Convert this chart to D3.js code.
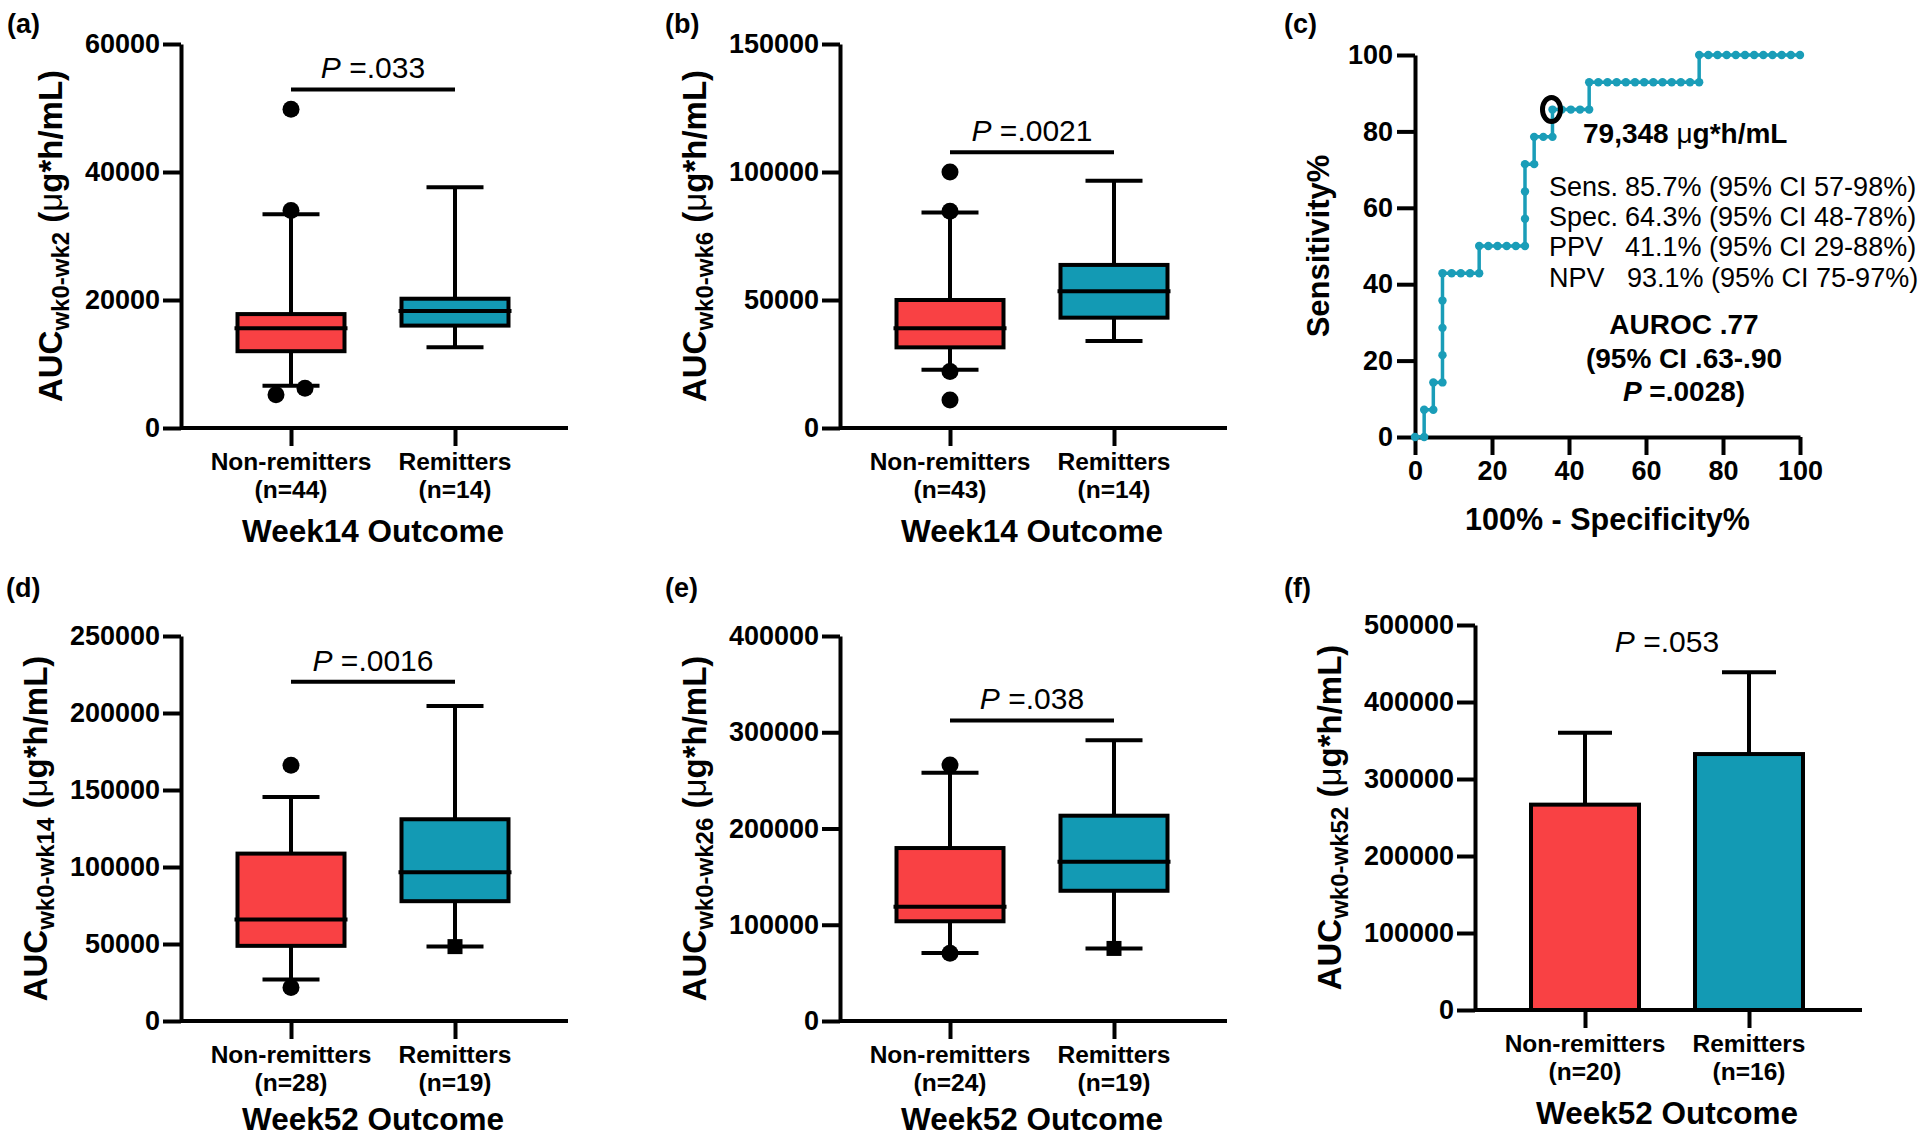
<!DOCTYPE html>
<html>
<head>
<meta charset="utf-8">
<script src="https://cdn.jsdelivr.net/npm/d3@7"></script>
<style>
body { margin: 0; background: #fff; }
svg { font-family: "Liberation Sans", Arial, Helvetica, sans-serif; }
</style>
</head>
<body>
<svg id="fig" width="1920" height="1139"></svg>
<script>
var groups = ["Non-remitters", "Remitters"]
var red = "#f94144", teal = "#139ab4", rocTeal = "#1a9db8"

// box data: [whisker low, q1, median, q3, whisker high]
var nA = [44, 14]
var boxA = [[6600, 12000, 15600, 17800, 33400], [12600, 16000, 18300, 20200, 37600]]
var outA = [[0, 49800], [0, 34000], [0, 6200], [0, 5200]]
var ticksA = [0, 20000, 40000, 60000]

var nB = [43, 14]
var boxB = [[22800, 31500, 39000, 50000, 84200], [34000, 43100, 53400, 63700, 96600]]
var outB = [[0, 100000], [0, 84700], [0, 22100], [0, 10900]]
var ticksB = [0, 50000, 100000, 150000]

var nD = [28, 19]
var boxD = [[27000, 48800, 65900, 108700, 145400], [48300, 77800, 96600, 131000, 204600]]
var outD = [[0, 166000], [0, 21700], [1, 48300]]
var ticksD = [0, 50000, 100000, 150000, 200000, 250000]

var nE = [24, 19]
var boxE = [[70700, 103600, 118600, 179700, 257800], [75400, 135300, 165400, 213300, 291800]]
var outE = [[0, 265900], [0, 70300], [1, 75400]]
var ticksE = [0, 100000, 200000, 300000, 400000]

// bar panel (f): mean and SD
var nF = [20, 16]
var meanF = [266700, 332400]
var sdF = [93300, 106200]
var ticksF = [0, 100000, 200000, 300000, 400000, 500000]

// ROC curve (c)
var rocFpr = [0, 2.38, 2.38, 4.76, 4.76, 7.14, 7.14, 7.14, 7.14, 7.14, 9.52, 11.90, 14.29, 16.67, 16.67,
  19.05, 21.43, 23.81, 26.19, 28.57, 28.57, 28.57, 28.57, 30.95, 30.95, 33.33, 35.71, 35.71, 38.10, 40.48,
  42.86, 45.24, 45.24, 47.62, 50.00, 52.38, 54.76, 57.14, 59.52, 61.90, 64.29, 66.67, 69.05, 71.43, 73.81,
  73.81, 76.19, 78.57, 80.95, 83.33, 85.71, 88.10, 90.48, 92.86, 95.24, 97.62, 100]
var rocSens = [0, 0, 7.14, 7.14, 14.29, 14.29, 21.43, 28.57, 35.71, 42.86, 42.86, 42.86, 42.86, 42.86, 50,
  50, 50, 50, 50, 50, 57.14, 64.29, 71.43, 71.43, 78.57, 78.57, 78.57, 85.71, 85.71, 85.71,
  85.71, 85.71, 92.86, 92.86, 92.86, 92.86, 92.86, 92.86, 92.86, 92.86, 92.86, 92.86, 92.86, 92.86, 92.86,
  100, 100, 100, 100, 100, 100, 100, 100, 100, 100, 100, 100]
var rocCut = [35.71, 85.71]
var rocTicks = [0, 20, 40, 60, 80, 100]
var statLabels = ["Sens.", "Spec.", "PPV", "NPV"]
var statValues = ["85.7% (95% CI 57-98%)", "64.3% (95% CI 48-78%)", "41.1% (95% CI 29-88%)", "93.1% (95% CI 75-97%)"]

var svg = d3.select("#fig")
var AX = 4, TICK = 18

function styleAxis(g) {
  g.selectAll("path, line").attr("stroke", "#000").attr("stroke-width", AX)
  g.selectAll("text").attr("fill", "#000").attr("font-size", 27).attr("font-weight", "bold")
}

function letter(x, y, s) {
  svg.append("text").attr("x", x).attr("y", y).attr("font-size", 27).attr("font-weight", "bold").text(s)
}

function yTitle(x, y, sub) {
  var t = svg.append("text").attr("transform", "translate(" + x + "," + y + ") rotate(-90)")
    .attr("text-anchor", "middle").attr("font-size", 33).attr("font-weight", "bold")
  t.append("tspan").text("AUC")
  t.append("tspan").attr("font-size", 24).attr("dy", 7).text(sub)
  t.append("tspan").attr("dy", -7).text(" (")
  t.append("tspan").attr("font-weight", "normal").text("\u03bc")
  t.append("tspan").text("g*h/mL)")
}

function pText(x, y, s) {
  var t = svg.append("text").attr("x", x).attr("y", y).attr("text-anchor", "middle").attr("font-size", 30)
  t.append("tspan").attr("font-style", "italic").text("P")
  t.append("tspan").text(" =" + s)
}

function frame(p, ticks, n, outcome) {
  var y = d3.scaleLinear().domain([0, ticks[ticks.length - 1]]).range([p.bottom, p.top])
  var x = d3.scalePoint().domain(groups).range([p.left + 110, p.left + 274])
  var ya = svg.append("g").attr("transform", "translate(" + p.left + ",0)")
    .call(d3.axisLeft(y).tickValues(ticks).tickSize(TICK).tickSizeOuter(0).tickPadding(3).tickFormat(d3.format("d")))
  styleAxis(ya)
  svg.append("line").attr("x1", p.left).attr("x2", p.right).attr("y1", p.bottom).attr("y2", p.bottom)
    .attr("stroke", "#000").attr("stroke-width", AX)
  var xa = svg.append("g").attr("transform", "translate(0," + p.bottom + ")")
    .call(d3.axisBottom(x).tickSize(TICK).tickFormat(""))
  xa.select(".domain").remove()
  styleAxis(xa)
  groups.forEach(function(gname, i) {
    var t = svg.append("text").attr("x", x(gname)).attr("y", p.bottom + 42)
      .attr("text-anchor", "middle").attr("font-size", 24.5).attr("font-weight", "bold")
    t.append("tspan").attr("x", x(gname)).text(gname)
    t.append("tspan").attr("x", x(gname)).attr("dy", 28).text("(n=" + n[i] + ")")
  })
  svg.append("text").attr("x", (x(groups[0]) + x(groups[1])) / 2).attr("y", Math.min(p.bottom + 114, 1130))
    .attr("text-anchor", "middle").attr("font-size", 31.5).attr("font-weight", "bold").text(outcome)
  var bb = ya.node().getBBox()
  yTitle(p.left + bb.x - 23, (p.top + p.bottom) / 2, p.sub)
  return {x: x, y: y}
}

function boxPanel(p, ticks, boxes, outs, n, pval, sig, outcome) {
  var s = frame(p, ticks, n, outcome), x = s.x, y = s.y
  var hw = 53.5, cw = 28.5
  var g = svg.append("g")
  boxes.forEach(function(b, i) {
    var cx = x(groups[i]), col = i == 0 ? red : teal
    g.append("line").attr("x1", cx).attr("x2", cx).attr("y1", y(b[0])).attr("y2", y(b[4]))
      .attr("stroke", "#000").attr("stroke-width", 4)
    ;[b[0], b[4]].forEach(function(v) {
      g.append("line").attr("x1", cx - cw).attr("x2", cx + cw).attr("y1", y(v)).attr("y2", y(v))
        .attr("stroke", "#000").attr("stroke-width", 4)
    })
    g.append("rect").attr("x", cx - hw).attr("width", hw * 2).attr("y", y(b[3])).attr("height", y(b[1]) - y(b[3]))
      .attr("fill", col).attr("stroke", "#000").attr("stroke-width", 4)
    g.append("line").attr("x1", cx - hw - 3).attr("x2", cx + hw + 3).attr("y1", y(b[2])).attr("y2", y(b[2]))
      .attr("stroke", "#000").attr("stroke-width", 4)
  })
  // spread outliers that would overlap
  groups.forEach(function(gname, i) {
    var pts = outs.filter(function(o) { return o[0] == i }).map(function(o) { return o[1] }).sort(d3.ascending)
    var dx = pts.map(function() { return 0 })
    for (var k = 1; k < pts.length; k++) {
      if (Math.abs(y(pts[k]) - y(pts[k - 1])) < 17) { dx[k - 1] = -15; dx[k] = 14 }
    }
    pts.forEach(function(v, k) {
      var cx = x(gname) + dx[k]
      if (i == 0) g.append("circle").attr("cx", cx).attr("cy", y(v)).attr("r", 8.5).attr("fill", "#000")
      else g.append("rect").attr("x", cx - 7.5).attr("y", y(v) - 7.5).attr("width", 15).attr("height", 15).attr("fill", "#000")
    })
  })
  svg.append("line").attr("x1", x(groups[0])).attr("x2", x(groups[1])).attr("y1", y(sig)).attr("y2", y(sig))
    .attr("stroke", "#000").attr("stroke-width", 4)
  pText((x(groups[0]) + x(groups[1])) / 2, y(sig) - 11, pval)
}

// panels a, b, d, e
letter(7, 33, "(a)")
boxPanel({left: 181, right: 568, top: 44, bottom: 428, sub: "wk0-wk2"}, ticksA, boxA, outA, nA, ".033", 52900, "Week14 Outcome")
letter(665, 33, "(b)")
boxPanel({left: 840, right: 1227, top: 44, bottom: 428, sub: "wk0-wk6"}, ticksB, boxB, outB, nB, ".0021", 107700, "Week14 Outcome")
letter(6, 597, "(d)")
boxPanel({left: 181, right: 568, top: 636, bottom: 1021, sub: "wk0-wk14"}, ticksD, boxD, outD, nD, ".0016", 220300, "Week52 Outcome")
letter(665, 597, "(e)")
boxPanel({left: 840, right: 1227, top: 636, bottom: 1021, sub: "wk0-wk26"}, ticksE, boxE, outE, nE, ".038", 312300, "Week52 Outcome")

// panel f: bars with SD
letter(1284, 597, "(f)")
var pf = {left: 1475, right: 1862, top: 625, bottom: 1010, sub: "wk0-wk52"}
var sf = frame(pf, ticksF, nF, "Week52 Outcome")
meanF.forEach(function(m, i) {
  var cx = sf.x(groups[i])
  svg.append("line").attr("x1", cx).attr("x2", cx).attr("y1", sf.y(m)).attr("y2", sf.y(m + sdF[i]))
    .attr("stroke", "#000").attr("stroke-width", 4)
  svg.append("line").attr("x1", cx - 27).attr("x2", cx + 27).attr("y1", sf.y(m + sdF[i])).attr("y2", sf.y(m + sdF[i]))
    .attr("stroke", "#000").attr("stroke-width", 4)
  svg.append("rect").attr("x", cx - 54).attr("width", 108).attr("y", sf.y(m)).attr("height", pf.bottom - sf.y(m))
    .attr("fill", i == 0 ? red : teal).attr("stroke", "#000").attr("stroke-width", 4)
})
pText((sf.x(groups[0]) + sf.x(groups[1])) / 2, 652, ".053")

// panel c: ROC
letter(1284, 33, "(c)")
var rx = d3.scaleLinear().domain([0, 100]).range([1415, 1800])
var ry = d3.scaleLinear().domain([0, 100]).range([437, 55])
var cy = svg.append("g").attr("transform", "translate(1415,0)")
  .call(d3.axisLeft(ry).tickValues(rocTicks).tickSize(TICK).tickSizeOuter(0).tickPadding(4))
styleAxis(cy)
var cxa = svg.append("g").attr("transform", "translate(0,437)")
  .call(d3.axisBottom(rx).tickValues(rocTicks).tickSize(TICK).tickSizeOuter(0).tickPadding(6))
styleAxis(cxa)
svg.append("text").attr("x", rx(50)).attr("y", 530).attr("text-anchor", "middle")
  .attr("font-size", 30.5).attr("font-weight", "bold").text("100% - Specificity%")
svg.append("text").attr("transform", "translate(1329," + ry(50) + ") rotate(-90)").attr("text-anchor", "middle")
  .attr("font-size", 31).attr("font-weight", "bold").text("Sensitivity%")

var roc = rocFpr.map(function(f, i) { return [f, rocSens[i]] })
svg.append("path").datum(roc)
  .attr("d", d3.line().x(function(d) { return rx(d[0]) }).y(function(d) { return ry(d[1]) }))
  .attr("fill", "none").attr("stroke", rocTeal).attr("stroke-width", 3.5)
svg.append("g").selectAll("circle").data(roc).enter().append("circle")
  .attr("cx", function(d) { return rx(d[0]) }).attr("cy", function(d) { return ry(d[1]) })
  .attr("r", 4.2).attr("fill", rocTeal)
svg.append("ellipse").attr("cx", rx(rocCut[0]) - 1).attr("cy", ry(rocCut[1])).attr("rx", 9).attr("ry", 12)
  .attr("fill", "none").attr("stroke", "#000").attr("stroke-width", 5)

var cut = svg.append("text").attr("x", 1583).attr("y", 143).attr("font-size", 28).attr("font-weight", "bold")
cut.append("tspan").text("79,348 ")
cut.append("tspan").attr("font-weight", "normal").text("\u03bc")
cut.append("tspan").text("g*h/mL")

statLabels.forEach(function(l, i) {
  var yy = 196 + i * 30.2
  svg.append("text").attr("x", 1549).attr("y", yy).attr("font-size", 27).text(l)
  svg.append("text").attr("x", i == 3 ? 1627 : 1625).attr("y", yy).attr("font-size", 27).text(statValues[i])
})
var au = svg.append("text").attr("text-anchor", "middle").attr("font-size", 28).attr("font-weight", "bold")
au.append("tspan").attr("x", 1684).attr("y", 334).text("AUROC .77")
au.append("tspan").attr("x", 1684).attr("y", 368).text("(95% CI .63-.90")
var au3 = svg.append("text").attr("x", 1684).attr("y", 401).attr("text-anchor", "middle").attr("font-size", 28).attr("font-weight", "bold")
au3.append("tspan").attr("font-style", "italic").text("P")
au3.append("tspan").text(" =.0028)")
</script>
</body>
</html>
